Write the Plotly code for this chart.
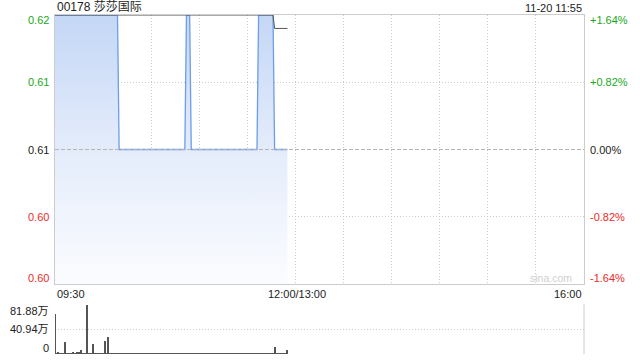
import plotly.graph_objects as go

# ---------------- data ----------------
title_text = "00178 莎莎国际"
stamp_text = "11-20 11:55"
prev_close = 0.61

# one price per trading minute from 09:30 (index 0) to 11:55 (index 145)
prices = [
    0.62, 0.62, 0.62, 0.62, 0.62, 0.62, 0.62, 0.62, 0.62, 0.62,
    0.62, 0.62, 0.62, 0.62, 0.62, 0.62, 0.62, 0.62, 0.62, 0.62,
    0.62, 0.62, 0.62, 0.62, 0.62, 0.62, 0.62, 0.62, 0.62, 0.62,
    0.62, 0.62, 0.62, 0.62, 0.62, 0.62, 0.62, 0.62, 0.62, 0.62,
    0.61, 0.61, 0.61, 0.61, 0.61, 0.61, 0.61, 0.61, 0.61, 0.61,
    0.61, 0.61, 0.61, 0.61, 0.61, 0.61, 0.61, 0.61, 0.61, 0.61,
    0.61, 0.61, 0.61, 0.61, 0.61, 0.61, 0.61, 0.61, 0.61, 0.61,
    0.61, 0.61, 0.61, 0.61, 0.61, 0.61, 0.61, 0.61, 0.61, 0.61,
    0.61, 0.61, 0.62, 0.62, 0.62, 0.61, 0.61, 0.61, 0.61, 0.61,
    0.61, 0.61, 0.61, 0.61, 0.61, 0.61, 0.61, 0.61, 0.61, 0.61,
    0.61, 0.61, 0.61, 0.61, 0.61, 0.61, 0.61, 0.61, 0.61, 0.61,
    0.61, 0.61, 0.61, 0.61, 0.61, 0.61, 0.61, 0.61, 0.61, 0.61,
    0.61, 0.61, 0.61, 0.61, 0.61, 0.61, 0.61, 0.62, 0.62, 0.62,
    0.62, 0.62, 0.62, 0.62, 0.62, 0.62, 0.62, 0.61, 0.61, 0.61,
    0.61, 0.61, 0.61, 0.61, 0.61, 0.61,
]

avg_prices = [
    0.62, 0.62, 0.62, 0.62, 0.62, 0.62, 0.62, 0.62, 0.62, 0.62,
    0.62, 0.62, 0.62, 0.62, 0.62, 0.62, 0.62, 0.62, 0.62, 0.62,
    0.62, 0.62, 0.62, 0.62, 0.62, 0.62, 0.62, 0.62, 0.62, 0.62,
    0.62, 0.62, 0.62, 0.62, 0.62, 0.62, 0.62, 0.62, 0.62, 0.62,
    0.62, 0.62, 0.62, 0.62, 0.62, 0.62, 0.62, 0.62, 0.62, 0.62,
    0.62, 0.62, 0.62, 0.62, 0.62, 0.62, 0.62, 0.62, 0.62, 0.62,
    0.62, 0.62, 0.62, 0.62, 0.62, 0.62, 0.62, 0.62, 0.62, 0.62,
    0.62, 0.62, 0.62, 0.62, 0.62, 0.62, 0.62, 0.62, 0.62, 0.62,
    0.62, 0.62, 0.62, 0.62, 0.62, 0.62, 0.62, 0.62, 0.62, 0.62,
    0.62, 0.62, 0.62, 0.62, 0.62, 0.62, 0.62, 0.62, 0.62, 0.62,
    0.62, 0.62, 0.62, 0.62, 0.62, 0.62, 0.62, 0.62, 0.62, 0.62,
    0.62, 0.62, 0.62, 0.62, 0.62, 0.62, 0.62, 0.62, 0.62, 0.62,
    0.62, 0.62, 0.62, 0.62, 0.62, 0.62, 0.62, 0.62, 0.62, 0.62,
    0.62, 0.62, 0.62, 0.62, 0.62, 0.62, 0.62, 0.619, 0.619, 0.619,
    0.619, 0.619, 0.619, 0.619, 0.619, 0.619,
]

volumes = [
    660000, 8000, 12000, 6000, 9000, 5000, 190000, 7000, 10000, 6000,
    8000, 22000, 9000, 7000, 12000, 35000, 60000, 8000, 6000, 9000,
    810000, 7000, 5000, 8000, 152000, 6000, 9000, 5000, 7000, 8000,
    6000, 208000, 9000, 283000, 7000, 5000, 4000, 6000, 3000, 5000,
    4000, 6000, 3000, 5000, 4000, 3000, 6000, 4000, 5000, 3000,
    4000, 5000, 3000, 6000, 4000, 3000, 5000, 4000, 3000, 5000,
    4000, 6000, 3000, 4000, 5000, 3000, 4000, 5000, 3000, 4000,
    6000, 3000, 4000, 5000, 3000, 9000, 4000, 3000, 5000, 4000,
    3000, 5000, 4000, 6000, 3000, 4000, 5000, 3000, 4000, 5000,
    3000, 4000, 6000, 3000, 4000, 8000, 3000, 4000, 5000, 3000,
    4000, 5000, 3000, 4000, 6000, 3000, 4000, 5000, 3000, 4000,
    5000, 3000, 4000, 6000, 3000, 4000, 5000, 3000, 4000, 5000,
    3000, 4000, 6000, 3000, 4000, 5000, 3000, 4000, 5000, 3000,
    4000, 6000, 3000, 4000, 5000, 3000, 4000, 115000, 4000, 5000,
    3000, 4000, 6000, 3000, 5000, 54000,
]

minutes = list(range(len(prices)))
session_minutes = 330          # 09:30-12:00 + 13:00-16:00

price_ticks = [0.62, 0.615, 0.61, 0.605, 0.60]
price_tick_text = ["0.62", "0.61", "0.61", "0.60", "0.60"]
pct_tick_text = ["+1.64%", "+0.82%", "0.00%", "-0.82%", "-1.64%"]
vol_max = 818800
vol_ticks = [818800, 409400, 0]
vol_tick_text = ["81.88万", "40.94万", "0"]
grid_minutes = [30, 60, 90, 120, 150, 180, 210, 240, 270, 300]
time_labels = ["09:30", "12:00/13:00", "16:00"]
time_label_pos = [0, 150, 330]

# ---------------- styles ----------------
FONT = "Liberation Sans, Arial, Noto Sans CJK SC, sans-serif"
GREEN = "#1aa81a"
RED = "#ee2a2a"
BLACK = "#222222"
GRID = "#cccccc"

fig = go.Figure()

fig.add_trace(go.Scatter(
    x=minutes, y=prices, mode="lines",
    line=dict(color="#6c9de9", width=1.3),
    fill="tozeroy",
    fillgradient=dict(type="vertical", start=0.60, stop=0.62,
                      colorscale=[[0, "#fbfcff"], [0.5, "#e4ecfb"], [1, "#c4d7f6"]]),
    hoverinfo="skip", xaxis="x", yaxis="y",
))
fig.add_trace(go.Scatter(
    x=minutes, y=avg_prices, mode="lines",
    line=dict(color="#555555", width=1),
    hoverinfo="skip", xaxis="x", yaxis="y",
))
fig.add_trace(go.Bar(
    x=minutes, y=volumes, width=0.6,
    marker=dict(color="#555555", line=dict(width=0)),
    hoverinfo="skip", xaxis="x2", yaxis="y2",
))

L, R, T, B = 55, 56, 15, 6
H = 360 - T - B
main_bottom = (360 - B - 284) / H
vol_top = (360 - B - 304.3) / H

fig.update_layout(
    width=640, height=360,
    margin=dict(l=L, r=R, t=T, b=B),
    paper_bgcolor="white", plot_bgcolor="rgba(0,0,0,0)",
    showlegend=False, bargap=0,
    font=dict(family=FONT, size=11, color=BLACK),
    xaxis=dict(domain=[0, 1], range=[0, session_minutes], tickvals=grid_minutes,
               showticklabels=False, ticks="", showgrid=True, gridcolor=GRID,
               griddash="1px,2px", gridwidth=1, zeroline=False,
               showline=True, mirror=True, linecolor=GRID, linewidth=1,
               anchor="y", fixedrange=True),
    yaxis=dict(domain=[main_bottom, 1], range=[0.60, 0.62],
               tickvals=[0.615, 0.605], showticklabels=False, ticks="",
               showgrid=True, gridcolor=GRID, griddash="1px,2px", zeroline=False,
               showline=True, mirror=True, linecolor=GRID, linewidth=1,
               anchor="x", fixedrange=True),
    xaxis2=dict(domain=[0, 1], range=[0, session_minutes], showticklabels=False,
                ticks="", showgrid=False, zeroline=False, showline=False,
                anchor="y2", fixedrange=True),
    yaxis2=dict(domain=[0, vol_top], range=[0, vol_max], tickvals=vol_ticks,
                showticklabels=False, ticks="", showgrid=True, gridcolor=GRID,
                griddash="1px,2px", zeroline=False, showline=False,
                anchor="x2", fixedrange=True),
)

shapes = [
    dict(type="line", xref="x", yref="y", x0=0, x1=session_minutes,
         y0=prev_close, y1=prev_close, line=dict(color="#b5b5b5", width=1, dash="4px,2px")),
    dict(type="line", xref="paper", yref="paper", x0=1, x1=1,
         y0=0, y1=vol_top, line=dict(color=GRID, width=1)),
]
fig.update_layout(shapes=shapes)

ann = []
ann.append(dict(xref="paper", yref="paper", x=0, y=1, xanchor="left", yanchor="bottom",
                yshift=-1, text=title_text, showarrow=False,
                font=dict(size=12, color=BLACK, family=FONT)))
ann.append(dict(xref="paper", yref="paper", x=1, y=1, xanchor="right", yanchor="bottom",
                yshift=-1, text=stamp_text, showarrow=False,
                font=dict(size=11, color=BLACK, family=FONT)))

n = len(price_ticks)
for i, (v, t, p) in enumerate(zip(price_ticks, price_tick_text, pct_tick_text)):
    if v > prev_close:
        c = GREEN
    elif v < prev_close:
        c = RED
    else:
        c = BLACK
    shift = -5 if i == 0 else (6 if i == n - 1 else 0)
    ann.append(dict(xref="paper", yref="y", x=0, y=v, xanchor="right", yanchor="middle",
                    xshift=-4, yshift=shift, text=t, showarrow=False,
                    font=dict(size=11, color=c, family=FONT)))
    ann.append(dict(xref="paper", yref="y", x=1, y=v, xanchor="left", yanchor="middle",
                    xshift=4, yshift=shift, text=p, showarrow=False,
                    font=dict(size=11, color=c, family=FONT)))

anchors = ["left", "center", "right"]
for t, pos, a in zip(time_labels, time_label_pos, anchors):
    ann.append(dict(xref="x", yref="paper", x=pos, y=main_bottom, xanchor=a, yanchor="top",
                    yshift=-2, xshift=(2 if a == "center" else 0), text=t, showarrow=False,
                    font=dict(size=11, color=BLACK, family=FONT)))

for i, (v, t) in enumerate(zip(vol_ticks, vol_tick_text)):
    shift = -7 if i == 0 else (6 if i == len(vol_ticks) - 1 else 0)
    ann.append(dict(xref="paper", yref="y2", x=0, y=v, xanchor="right", yanchor="middle",
                    xshift=-4, yshift=shift, text=t, showarrow=False,
                    font=dict(size=11, color=BLACK, family=FONT)))

ann.append(dict(xref="paper", yref="y", x=1, y=0.60, xanchor="right", yanchor="bottom",
                xshift=-10, yshift=-2, text="sina.com", showarrow=False,
                font=dict(size=10.5, color="#cfcfcf", family=FONT)))

fig.update_layout(annotations=ann)

fig.write_html("out.html", config={"displayModeBar": False})
